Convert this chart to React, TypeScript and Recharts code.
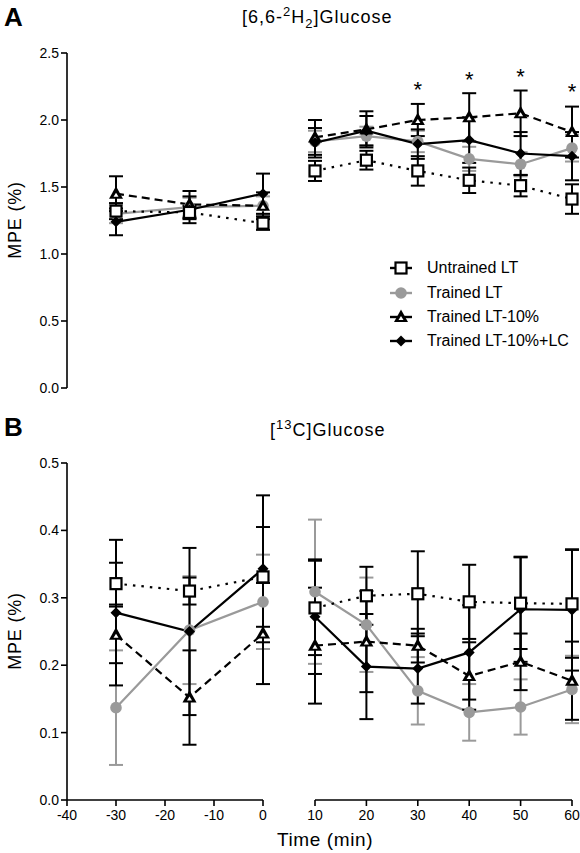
import React from "react";
import { ComposedChart, Line, Scatter, XAxis, YAxis, ErrorBar } from "recharts";

const FONT = '"Liberation Sans", Arial, Helvetica, sans-serif';

// time points (min)
const timePre = [-30, -15, 0];
const timePost = [10, 20, 30, 40, 50, 60];
const ticksPre = [-40, -30, -20, -10, 0];
const ticksPost = [10, 20, 30, 40, 50, 60];

// A: [6,6-2H2]glucose MPE (%)
const untrainedA = [1.32, 1.31, 1.23, 1.62, 1.7, 1.62, 1.55, 1.51, 1.41];
const untrainedErrA = [0.06, 0.05, 0.05, 0.075, 0.07, 0.11, 0.095, 0.08, 0.11];
const trainedA = [1.3, 1.35, 1.36, 1.84, 1.88, 1.84, 1.71, 1.67, 1.79];
const trainedErrA = [0.07, 0.07, 0.07, 0.08, 0.07, 0.08, 0.09, 0.09, 0.1];
const lt10A = [1.45, 1.37, 1.36, 1.87, 1.93, 2.0, 2.02, 2.05, 1.91];
const lt10ErrA = [0.13, 0.1, 0.1, 0.13, 0.135, 0.12, 0.18, 0.17, 0.19];
const lt10lcA = [1.24, 1.33, 1.45, 1.83, 1.92, 1.82, 1.85, 1.75, 1.73];
const lt10lcErrA = [0.1, 0.1, 0.15, 0.11, 0.11, 0.11, 0.17, 0.16, 0.18];
const yTicksA = [0, 0.5, 1.0, 1.5, 2.0, 2.5];

// significance markers on A
const sigTimes = [30, 40, 50, 60];
const sigLevels = [2.25, 2.32, 2.345, 2.235];

// B: [13C]glucose MPE (%)
const untrainedB = [0.321, 0.31, 0.331, 0.285, 0.303, 0.306, 0.294, 0.292, 0.291];
const untrainedErrB = [0.031, 0.02, 0.074, 0.07, 0.043, 0.063, 0.055, 0.068, 0.08];
const trainedB = [0.137, 0.252, 0.294, 0.309, 0.26, 0.162, 0.13, 0.138, 0.164];
const trainedErrB = [0.085, 0.08, 0.07, 0.107, 0.07, 0.05, 0.042, 0.041, 0.05];
const lt10B = [0.245, 0.152, 0.247, 0.229, 0.235, 0.229, 0.184, 0.205, 0.177];
const lt10ErrB = [0.042, 0.07, 0.075, 0.086, 0.075, 0.025, 0.05, 0.042, 0.058];
const lt10lcB = [0.278, 0.25, 0.343, 0.272, 0.198, 0.195, 0.219, 0.283, 0.282];
const lt10lcErrB = [0.108, 0.124, 0.109, 0.085, 0.078, 0.052, 0.07, 0.078, 0.09];
const yTicksB = [0, 0.1, 0.2, 0.3, 0.4, 0.5];

const seriesNames = ["Untrained LT", "Trained LT", "Trained LT-10%", "Trained LT-10%+LC"];

function rows(times: number[], offset: number, u: number[], ue: number[], tr: number[], tre: number[], l: number[], le: number[], c: number[], ce: number[]) {
  return times.map((t, i) => {
    const k = i + offset;
    return { t, u: u[k], uErr: ue[k], tr: tr[k], trErr: tre[k], l: l[k], lErr: le[k], c: c[k], cErr: ce[k] };
  });
}

const aPre = rows(timePre, 0, untrainedA, untrainedErrA, trainedA, trainedErrA, lt10A, lt10ErrA, lt10lcA, lt10lcErrA);
const aPost = rows(timePost, 3, untrainedA, untrainedErrA, trainedA, trainedErrA, lt10A, lt10ErrA, lt10lcA, lt10lcErrA);
const bPre = rows(timePre, 0, untrainedB, untrainedErrB, trainedB, trainedErrB, lt10B, lt10ErrB, lt10lcB, lt10lcErrB);
const bPost = rows(timePost, 3, untrainedB, untrainedErrB, trainedB, trainedErrB, lt10B, lt10ErrB, lt10lcB, lt10lcErrB);
const sigRows = sigTimes.map((t, i) => ({ t, s: sigLevels[i] }));

const GREY = "#9a9a9a";

const squareDot = (p: any) =>
  p.cx == null ? <g key={p.index} /> : (
    <rect key={p.index} x={p.cx - 5.5} y={p.cy - 5.5} width={11} height={11} fill="#fff" stroke="#000" strokeWidth={2.2} />
  );
const circleDot = (p: any) =>
  p.cx == null ? <g key={p.index} /> : <circle key={p.index} cx={p.cx} cy={p.cy} r={5.8} fill={GREY} />;
const triangleDot = (p: any) =>
  p.cx == null ? <g key={p.index} /> : (
    <g key={p.index}>
      <path d={`M${p.cx},${p.cy - 7.5} L${p.cx + 7},${p.cy + 5} L${p.cx - 7},${p.cy + 5} Z`} fill="#000" />
      <path d={`M${p.cx},${p.cy - 1} L${p.cx + 2.5},${p.cy + 3} L${p.cx - 2.5},${p.cy + 3} Z`} fill="#fff" />
    </g>
  );
const diamondDot = (p: any) =>
  p.cx == null ? <g key={p.index} /> : (
    <path key={p.index} d={`M${p.cx},${p.cy - 5.5} L${p.cx + 5.5},${p.cy} L${p.cx},${p.cy + 5.5} L${p.cx - 5.5},${p.cy} Z`} fill="#000" />
  );
const starShape = (p: any) => (
  <text x={p.cx} y={p.cy + 10} textAnchor="middle" fontSize={22} fontFamily={FONT} fill="#000">*</text>
);

type SegProps = {
  data: any[];
  domain: [number, number];
  ticks: number[];
  yDomain: [number, number];
  yTicks: number[];
  showY: boolean;
  showX: boolean;
  width: number;
  height: number;
  margin: { top: number; right: number; bottom: number; left: number };
  sig?: any[];
};

function Segment({ data, domain, ticks, yDomain, yTicks, showY, showX, width, height, margin, sig }: SegProps) {
  return (
    <ComposedChart width={width} height={height} data={data} margin={margin}>
      <XAxis
        dataKey="t"
        type="number"
        domain={domain}
        ticks={ticks}
        interval={0}
        hide={!showX}
        height={30}
        stroke="#000"
        strokeWidth={1.6}
        tickSize={6}
        tickMargin={4}
        tick={{ fill: "#000", fontSize: 14, fontFamily: FONT }}
      />
      <YAxis
        type="number"
        domain={yDomain}
        ticks={yTicks}
        interval={0}
        hide={!showY}
        width={40}
        stroke="#000"
        strokeWidth={1.6}
        tickSize={6}
        tickMargin={2}
        tickFormatter={(v: number) => v.toFixed(1)}
        tick={{ fill: "#000", fontSize: 14, fontFamily: FONT }}
      />
      <Line dataKey="tr" stroke={GREY} strokeWidth={2.2} dot={circleDot} isAnimationActive={false}>
        <ErrorBar dataKey="trErr" direction="y" width={7} stroke={GREY} strokeWidth={2} />
      </Line>
      <Line dataKey="l" stroke="#000" strokeWidth={2.2} strokeDasharray="8 5" dot={triangleDot} isAnimationActive={false}>
        <ErrorBar dataKey="lErr" direction="y" width={7} stroke="#000" strokeWidth={2} />
      </Line>
      <Line dataKey="c" stroke="#000" strokeWidth={2.2} dot={diamondDot} isAnimationActive={false}>
        <ErrorBar dataKey="cErr" direction="y" width={7} stroke="#000" strokeWidth={2} />
      </Line>
      <Line dataKey="u" stroke="#000" strokeWidth={2.2} strokeDasharray="2.5 6" dot={squareDot} isAnimationActive={false}>
        <ErrorBar dataKey="uErr" direction="y" width={7} stroke="#000" strokeWidth={2} />
      </Line>
      {sig && <Scatter data={sig} dataKey="s" shape={starShape} isAnimationActive={false} />}
    </ComposedChart>
  );
}

function LegendIcon({ i }: { i: number }) {
  const cx = 12, cy = 8;
  const color = i === 1 ? GREY : "#000";
  const marker = [squareDot, circleDot, triangleDot, diamondDot][i]({ cx, cy, index: 0 });
  return (
    <svg width={26} height={16} style={{ display: "block" }}>
      <line x1={1} y1={cy} x2={23} y2={cy} stroke={color} strokeWidth={2.4} />
      {marker}
    </svg>
  );
}

const abs = (left: number, top: number): React.CSSProperties => ({ position: "absolute", left, top });
const yLabel: React.CSSProperties = {
  fontSize: 18, letterSpacing: 0.8, transform: "rotate(-90deg)", width: 110, height: 22, lineHeight: "22px",
  textAlign: "center", whiteSpace: "nowrap",
};

export default function App() {
  return (
    <div style={{ position: "absolute", left: 0, top: 0, width: 580, height: 853, background: "#fff", fontFamily: FONT, color: "#000", overflow: "hidden" }}>
      {/* panel A */}
      <div style={{ ...abs(4, 2), fontSize: 26, fontWeight: "bold" }}>A</div>
      <div style={{ ...abs(242, 6), fontSize: 18, letterSpacing: 1, whiteSpace: "nowrap", lineHeight: "22px" }}>
        [6,6-<sup style={{ fontSize: 13, lineHeight: 0 }}>2</sup>H<sub style={{ fontSize: 13, lineHeight: 0 }}>2</sub>]Glucose
      </div>
      <div style={{ ...abs(-40, 209), ...yLabel }}>MPE (%)</div>
      <div style={abs(0, 0)}>
        <Segment data={aPre} domain={[-40, 0]} ticks={ticksPre} yDomain={[0, 2.5]} yTicks={yTicksA} showY showX={false}
          width={270} height={400} margin={{ top: 53, right: 7, bottom: 12, left: 27 }} />
      </div>
      <div style={abs(305, 0)}>
        <Segment data={aPost} domain={[10, 60]} ticks={ticksPost} yDomain={[0, 2.5]} yTicks={yTicksA} showY={false} showX={false}
          width={275} height={400} margin={{ top: 53, right: 8, bottom: 12, left: 10 }} sig={sigRows} />
      </div>
      <div style={{ ...abs(389, 256), fontSize: 16 }}>
        {seriesNames.map((n, i) => (
          <div key={n} style={{ display: "flex", alignItems: "center", height: 24.4 }}>
            <LegendIcon i={i} />
            <span style={{ marginLeft: 12, whiteSpace: "nowrap" }}>{n}</span>
          </div>
        ))}
      </div>

      {/* panel B */}
      <div style={{ ...abs(4, 412), fontSize: 26, fontWeight: "bold" }}>B</div>
      <div style={{ ...abs(270, 419), fontSize: 18, letterSpacing: 1, whiteSpace: "nowrap", lineHeight: "22px" }}>
        [<sup style={{ fontSize: 13, lineHeight: 0 }}>13</sup>C]Glucose
      </div>
      <div style={{ ...abs(-40, 620), ...yLabel }}>MPE (%)</div>
      <div style={abs(0, 420)}>
        <Segment data={bPre} domain={[-40, 0]} ticks={ticksPre} yDomain={[0, 0.5]} yTicks={yTicksB} showY showX
          width={270} height={415} margin={{ top: 43, right: 7, bottom: 5, left: 27 }} />
      </div>
      <div style={abs(305, 420)}>
        <Segment data={bPost} domain={[10, 60]} ticks={ticksPost} yDomain={[0, 0.5]} yTicks={yTicksB} showY={false} showX
          width={275} height={415} margin={{ top: 43, right: 8, bottom: 5, left: 10 }} />
      </div>
      <div style={{ ...abs(277, 829), fontSize: 19, letterSpacing: 0.6, whiteSpace: "nowrap" }}>Time (min)</div>
    </div>
  );
}
